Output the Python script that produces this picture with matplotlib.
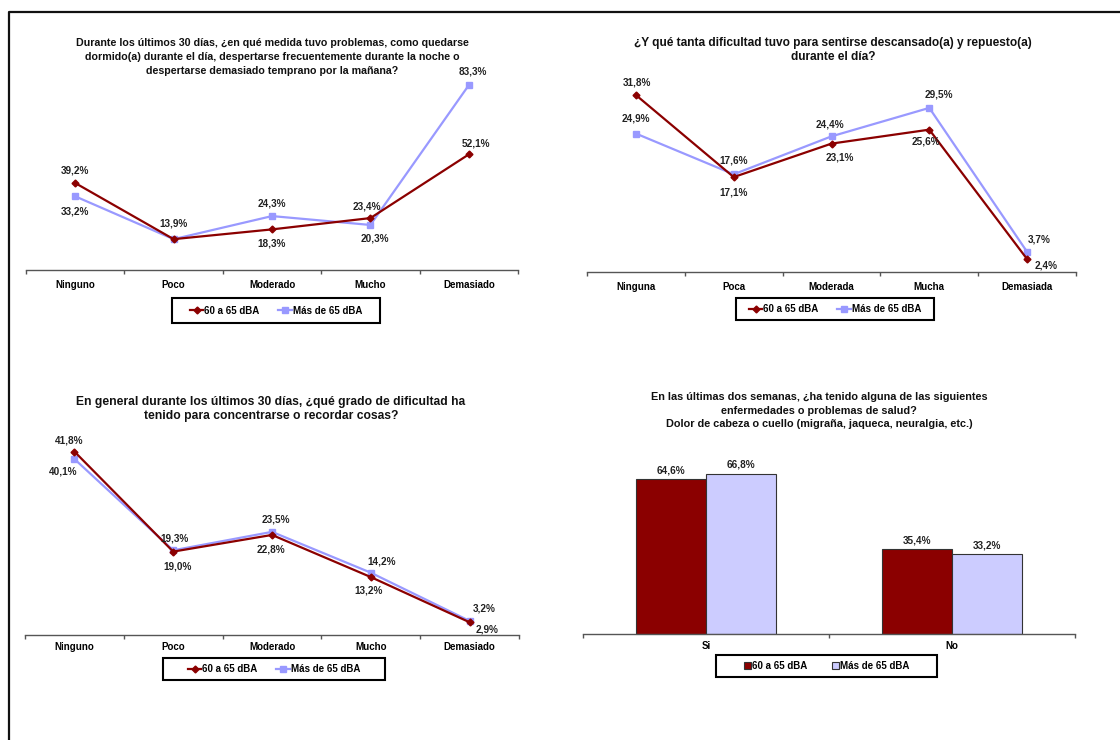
#!/usr/bin/env python3
"""Four survey panels: sleep, rest, concentration and headache by noise level."""

import matplotlib

matplotlib.use("Agg")
import matplotlib.pyplot as plt
import numpy as np
from matplotlib.lines import Line2D
from matplotlib.patches import Rectangle

plt.rcParams["font.family"] = ["Liberation Sans", "DejaVu Sans"]
plt.rcParams["font.weight"] = "bold"

W, H = 1120, 740
RED = "#8b0000"
BLUE_LINE = "#9999ff"
BLUE_BAR = "#ccccff"
SERIES = ["60 a 65 dBA", "Más de 65 dBA"]

SLEEP_CATS = ["Ninguno", "Poco", "Moderado", "Mucho", "Demasiado"]
SLEEP_60_65 = [39.2, 13.9, 18.3, 23.4, 52.1]
SLEEP_65_PLUS = [33.2, 13.9, 24.3, 20.3, 83.3]

REST_CATS = ["Ninguna", "Poca", "Moderada", "Mucha", "Demasiada"]
REST_60_65 = [31.8, 17.1, 23.1, 25.6, 2.4]
REST_65_PLUS = [24.9, 17.6, 24.4, 29.5, 3.7]

FOCUS_CATS = ["Ninguno", "Poco", "Moderado", "Mucho", "Demasiado"]
FOCUS_60_65 = [41.8, 19.0, 22.8, 13.2, 2.9]
FOCUS_65_PLUS = [40.1, 19.3, 23.5, 14.2, 3.2]

HEADACHE_CATS = ["Si", "No"]
HEADACHE_60_65 = [64.6, 35.4]
HEADACHE_65_PLUS = [66.8, 33.2]

TITLE_SLEEP = [
    "Durante los últimos 30 días, ¿en qué medida tuvo problemas, como quedarse",
    "dormido(a) durante el día, despertarse frecuentemente durante la noche o",
    "despertarse demasiado temprano por la mañana?",
]
TITLE_REST = [
    "¿Y qué tanta dificultad tuvo para sentirse descansado(a) y repuesto(a)",
    "durante el día?",
]
TITLE_FOCUS = [
    "En general durante los últimos 30 días, ¿qué grado de dificultad ha",
    "tenido para concentrarse o recordar cosas?",
]
TITLE_HEADACHE = [
    "En las últimas dos semanas, ¿ha tenido alguna de las siguientes",
    "enfermedades o problemas de salud?",
    "Dolor de cabeza o cuello (migraña, jaqueca, neuralgia, etc.)",
]

# label offsets in pixels (dx, dy with y pointing down), one per point; None = no label
SLEEP_OFFSETS = (
    [(0, -13), (0, -16), (0, 14), (-4, -12), (7, -11)],
    [(0, 15), None, (0, -13), (4, 14), (4, -14)],
)
REST_OFFSETS = (
    [(1, -13), (0, 15), (8, 14), (-3, 12), (19, 6)],
    [(0, -15), (0, -14), (-2, -12), (10, -13), (12, -12)],
)
FOCUS_OFFSETS = (
    [(-5, -11), (4, 15), (-1, 15), (-2, 13), (17, 7)],
    [(-11, 12), (1, -12), (4, -12), (11, -11), (15, -12)],
)


def add_axes_px(fig, left, right, bottom, top):
    return fig.add_axes([left / W, 1 - bottom / H, (right - left) / W, (bottom - top) / H])


def draw_title(fig, lines, cx, ys, size):
    for line, y in zip(lines, ys):
        fig.text(cx / W, 1 - y / H, line, ha="center", va="center", fontsize=size,
                 fontweight="bold", color="#111111")


def style_axis(ax, cats, pad):
    n = len(cats)
    ax.set_xlim(-0.5, n - 0.5)
    for side in ("left", "right", "top"):
        ax.spines[side].set_visible(False)
    ax.spines["bottom"].set_color("#555555")
    ax.spines["bottom"].set_linewidth(1.0)
    ax.set_yticks([])
    ax.set_xticks(range(n), cats, fontsize=7, fontweight="bold")
    ax.set_xticks(np.arange(-0.5, n, 1.0), minor=True)
    ax.tick_params(axis="x", which="major", length=0, pad=pad)
    ax.tick_params(axis="x", which="minor", length=3, width=1, color="#555555", direction="out")
    ax.patch.set_alpha(0)


def add_legend(fig, handles, box, handlelength, columnspacing):
    left, right, top, bottom = box
    fig.add_artist(Rectangle((left / W, 1 - bottom / H), (right - left) / W, (bottom - top) / H,
                             transform=fig.transFigure, facecolor="white", edgecolor="black",
                             linewidth=1.5, zorder=4))
    leg = fig.legend(
        handles=handles,
        loc="center",
        bbox_to_anchor=((left + right) / 2 / W, 1 - (top + bottom) / 2 / H),
        bbox_transform=fig.transFigure,
        ncol=2,
        frameon=False,
        prop={"size": 7, "weight": "bold"},
        handlelength=handlelength,
        handletextpad=0.1,
        columnspacing=columnspacing,
        borderpad=0.2,
    )
    leg.set_zorder(5)


def line_panel(fig, box, ymax, cats, red_vals, blue_vals, offsets, legend_box, pad):
    ax = add_axes_px(fig, *box)
    x = np.arange(len(cats))
    ax.plot(x, red_vals, color=RED, lw=1.6, marker="D", ms=3.5, zorder=3)
    ax.plot(x, blue_vals, color=BLUE_LINE, lw=1.6, marker="s", ms=5, zorder=2)
    ax.set_ylim(0, ymax)
    style_axis(ax, cats, pad)
    for vals, offs in zip((red_vals, blue_vals), offsets):
        for xi, v, off in zip(x, vals, offs):
            if off is None:
                continue
            ax.annotate(
                f"{v:.1f}%".replace(".", ","),
                (xi, v),
                xytext=(off[0], -off[1]),
                textcoords="offset pixels",
                ha="center",
                va="center",
                fontsize=7.2,
                fontweight="bold",
                color="#222222",
            )
    handles = [
        Line2D([], [], color=RED, lw=1.6, marker="D", ms=3.5, label=SERIES[0]),
        Line2D([], [], color=BLUE_LINE, lw=1.6, marker="s", ms=5, label=SERIES[1]),
    ]
    add_legend(fig, handles, legend_box, 1.4, 1.9)
    return ax


def bar_panel(fig):
    ax = add_axes_px(fig, 583, 1075, 634, 442.4)
    x = np.arange(len(HEADACHE_CATS))
    width = 0.2846
    red = ax.bar(x - width / 2, HEADACHE_60_65, width, color=RED, edgecolor="#333333",
                 linewidth=0.8, label=SERIES[0])
    blue = ax.bar(x + width / 2, HEADACHE_65_PLUS, width, color=BLUE_BAR, edgecolor="#333333",
                  linewidth=0.8, label=SERIES[1])
    ax.set_ylim(0, 80)
    style_axis(ax, HEADACHE_CATS, 5)
    for bars in (red, blue):
        ax.bar_label(bars, labels=[f"{v:.1f}%".replace(".", ",") for v in bars.datavalues],
                     padding=3, fontsize=7.2, fontweight="bold", color="#222222")
    add_legend(fig, [red, blue], (716, 937, 655, 677), 0.7, 2.6)


def main():
    fig = plt.figure(figsize=(W / 100, H / 100), dpi=100)

    line_panel(fig, (26, 518, 270, 70.3), 90, SLEEP_CATS, SLEEP_60_65, SLEEP_65_PLUS,
               SLEEP_OFFSETS, (172, 380, 298, 323), 7)
    draw_title(fig, TITLE_SLEEP, 272, (43, 57, 71), 7.7)

    line_panel(fig, (587, 1076, 272.5, 77.2), 35, REST_CATS, REST_60_65, REST_65_PLUS,
               REST_OFFSETS, (736, 934, 298, 320), 7)
    draw_title(fig, TITLE_REST, 833, (43, 57), 8.6)

    line_panel(fig, (25, 519, 635, 437.5), 45, FOCUS_CATS, FOCUS_60_65, FOCUS_65_PLUS,
               FOCUS_OFFSETS, (163, 385, 658, 680), 5)
    draw_title(fig, TITLE_FOCUS, 271, (402, 416), 8.7)

    bar_panel(fig)
    draw_title(fig, TITLE_HEADACHE, 819, (397, 411, 424), 7.8)

    # outer frame: top and left edges only
    fig.add_artist(Line2D([8.5 / W, 8.5 / W, 1.0], [0.0, 1 - 11.5 / H, 1 - 11.5 / H],
                          transform=fig.transFigure, color="#111111", lw=1.6))

    fig.savefig("out.png", dpi=100)
    plt.close(fig)


if __name__ == "__main__":
    main()
